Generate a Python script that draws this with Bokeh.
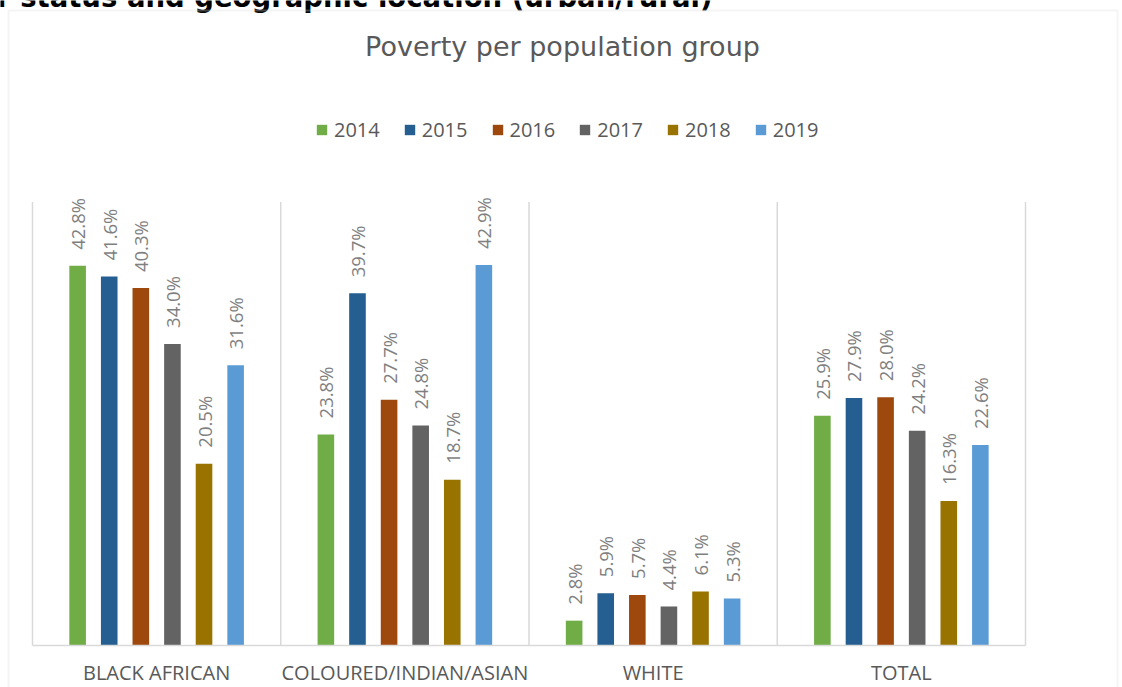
import math
from bokeh.plotting import figure
from bokeh.models import (Range1d, LinearAxis, FixedTicker, Legend, LegendItem,
                          Label, BoxAnnotation, ColumnDataSource)
from bokeh.core.properties import value
from bokeh.embed import file_html
from bokeh.resources import INLINE

# ---------------- data ----------------
categories = ["BLACK AFRICAN", "COLOURED/INDIAN/ASIAN", "WHITE", "TOTAL"]
years = ["2014", "2015", "2016", "2017", "2018", "2019"]
v2014 = [42.8, 23.8, 2.8, 25.9]
v2015 = [41.6, 39.7, 5.9, 27.9]
v2016 = [40.3, 27.7, 5.7, 28.0]
v2017 = [34.0, 24.8, 4.4, 24.2]
v2018 = [20.5, 18.7, 6.1, 16.3]
v2019 = [31.6, 42.9, 5.3, 22.6]
series = [v2014, v2015, v2016, v2017, v2018, v2019]
colors = ["#70AD47", "#255E91", "#9E480E", "#636363", "#997300", "#5B9BD5"]
chart_title = "Poverty per population group"
heading = "r status and geographic location (urban/rural)"

# ---------------- layout (figure pixels) ----------------
FIG_W, FIG_H = 1122, 687
AREA_L, AREA_R, AREA_T, AREA_B = 32, 1025, 201.5, 645
Y_MAX = 50
ncat = len(categories)
ppx = (AREA_R - AREA_L) / ncat      # pixels per category
ppy = (AREA_B - AREA_T) / Y_MAX     # pixels per percent


def dx(fx):
    return (fx - AREA_L) / ppx


def dy(fy):
    return (AREA_B - fy) / ppy


SLOT = 31.6 / ppx
BAR_W = 16.6 / ppx

p = figure(width=FIG_W, height=FIG_H,
           x_range=Range1d(dx(0), dx(FIG_W)), y_range=Range1d(dy(FIG_H), dy(0)),
           output_backend="svg", toolbar_location=None,
           x_axis_type=None, y_axis_type=None, min_border=0,
           outline_line_color=None, background_fill_color="white",
           border_fill_color="white")

# vertical separators between categories
seps = list(range(ncat + 1))
p.segment(x0=seps, y0=[0] * len(seps), x1=seps, y1=[Y_MAX] * len(seps),
          line_color="#d9d9d9", line_width=1.5)

items = []
nser = len(years)
for j, (yr, vals, col) in enumerate(zip(years, series, colors)):
    xs = [i + 0.5 + (j - (nser - 1) / 2) * SLOT for i in range(ncat)]
    src = ColumnDataSource(dict(x=xs, top=vals, label=[f"{v:.1f}%" for v in vals]))
    r = p.vbar(x="x", top="top", bottom=0, width=BAR_W, source=src,
               fill_color=col, line_color=None)
    p.text(x="x", y="top", text="label", source=src, angle=math.pi / 2,
           text_align="left", text_baseline="middle", y_offset=-16,
           text_font=value("Open Sans"), text_font_size="18.5px", text_color="#7f7f7f")
    items.append(LegendItem(label=yr, renderers=[r]))

# category axis drawn at y = 0
xaxis = LinearAxis(ticker=FixedTicker(ticks=[i + 0.5 for i in range(ncat)]),
                   major_label_overrides={i + 0.5: c for i, c in enumerate(categories)},
                   fixed_location=0, bounds=(0, ncat),
                   axis_line_color="#d9d9d9", axis_line_width=1.5,
                   major_tick_line_color=None, minor_tick_line_color=None,
                   major_tick_out=0, major_tick_in=0, minor_tick_out=0, minor_tick_in=0,
                   major_label_standoff=13,
                   major_label_text_font="Open Sans", major_label_text_font_size="20px",
                   major_label_text_color="#595959")
p.add_layout(xaxis, "below")

legend = Legend(items=items, orientation="horizontal", location=(315, 544),
                glyph_width=13, glyph_height=13, label_standoff=6, spacing=23,
                padding=0, margin=0, border_line_alpha=0, background_fill_alpha=0,
                label_text_font="Open Sans", label_text_font_size="20px",
                label_text_color="#595959")
p.add_layout(legend, "center")

p.add_layout(Label(x=dx(562), y=dy(46), text=chart_title, text_align="center",
                   text_baseline="alphabetic", text_font="DejaVu Sans",
                   text_font_size="27px", text_color="#595959"))

p.add_layout(Label(x=dx(712), y=dy(-4), text=heading, text_align="right",
                   text_baseline="alphabetic", text_font="DejaVu Sans",
                   text_font_style="bold", text_font_size="27.5px", text_color="black"))

# chart border
p.add_layout(BoxAnnotation(left=dx(8), right=dx(1117), top=dy(10), bottom=dy(FIG_H + 20),
                           fill_alpha=0, line_color="#d9d9d9", line_width=2))

open("out.html", "w").write(file_html(p, INLINE))
